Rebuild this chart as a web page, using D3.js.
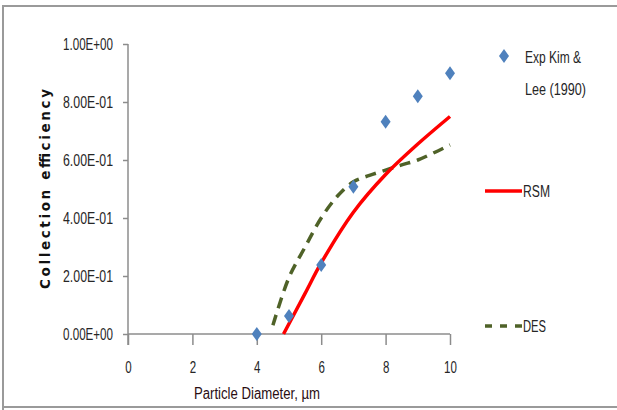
<!DOCTYPE html>
<html>
<head>
<meta charset="utf-8">
<script src="https://cdn.jsdelivr.net/npm/d3@7"></script>
<style>
  html, body { margin: 0; padding: 0; background: #fff; }
  svg { display: block; }
  .lbl { font-family: "Liberation Sans", Arial, sans-serif; }
</style>
</head>
<body>
<svg id="chart" width="617" height="410"></svg>
<script>
// ---- data ----
const expX = [4, 5, 6, 7, 8, 9, 10];
const expY = [0.0, 0.062, 0.238, 0.508, 0.732, 0.82, 0.899];

const rsmX = [4.83, 5.5, 6, 7, 8, 9, 10];
const rsmY = [0.0, 0.14, 0.245, 0.42, 0.55, 0.655, 0.75];

const desX = [4.5, 5, 5.5, 6, 6.5, 7, 7.5, 8, 8.5, 9, 9.5, 10];
const desY = [0.03, 0.195, 0.3, 0.4, 0.475, 0.525, 0.547, 0.565, 0.583, 0.6, 0.625, 0.652];

const xTicks = [0, 2, 4, 6, 8, 10];
const yTicks = [0, 0.2, 0.4, 0.6, 0.8, 1.0];
const yTickLabels = ["0.00E+00", "2.00E-01", "4.00E-01", "6.00E-01", "8.00E-01", "1.00E+00"];
const legendNames = ["Exp Kim &", "Lee (1990)", "RSM", "DES"];

// ---- drawing ----
const svg = d3.select("#chart");
const x = d3.scaleLinear().domain([0, 10]).range([128, 450]);
const y = d3.scaleLinear().domain([0, 1]).range([334, 44]);
const axisColor = "#8c8c8c";
const textColor = "#262626";

function condense(sel, f) {
  sel.each(function () {
    const len = this.getComputedTextLength();
    d3.select(this).attr("textLength", len * f).attr("lengthAdjust", "spacingAndGlyphs");
  });
}

// outer frame
svg.append("path")
  .attr("d", "M3,410 V6 H617")
  .attr("fill", "none").attr("stroke", "#9a9a9a").attr("stroke-width", 2);
svg.append("line")
  .attr("x1", 3).attr("x2", 617).attr("y1", 407).attr("y2", 407)
  .attr("stroke", "#9a9a9a").attr("stroke-width", 2);

// y axis
const yAxis = d3.axisLeft(y).tickValues(yTicks).tickSize(5)
  .tickFormat((d, i) => yTickLabels[i]);
const gy = svg.append("g").attr("transform", `translate(${x(0)},0)`).call(yAxis);
gy.select(".domain").attr("stroke", axisColor).attr("stroke-width", 1.5)
  .attr("d", `M0,${y(1)}V${y(0) + 11}`);
gy.selectAll(".tick line").attr("stroke", axisColor).attr("stroke-width", 1.5);
gy.selectAll(".tick text").attr("class", "lbl").attr("font-size", 16)
  .attr("fill", textColor).attr("x", -15)
  .attr("textLength", 50).attr("lengthAdjust", "spacingAndGlyphs");

// x axis
const xAxis = d3.axisBottom(x).tickValues(xTicks).tickSize(11).tickFormat(d3.format("d"));
const gx = svg.append("g").attr("transform", `translate(0,${y(0)})`).call(xAxis);
gx.select(".domain").attr("stroke", axisColor).attr("stroke-width", 1.5)
  .attr("d", `M${x(0)},0H${x(10)}`);
gx.selectAll(".tick line").attr("stroke", axisColor).attr("stroke-width", 1.5);
gx.selectAll(".tick text").attr("class", "lbl").attr("font-size", 16)
  .attr("fill", textColor).attr("y", 34).attr("dy", "0.32em").call(condense, 0.72);

// axis titles
svg.append("text").attr("class", "lbl")
  .attr("x", 257).attr("y", 393).attr("dy", "0.35em")
  .attr("text-anchor", "middle").attr("font-size", 16).attr("fill", "#2a0d12")
  .attr("textLength", 126).attr("lengthAdjust", "spacingAndGlyphs")
  .text("Particle Diameter, µm");

svg.append("text")
  .attr("transform", "translate(45,189) rotate(-90)")
  .attr("text-anchor", "middle").attr("dy", "0.35em")
  .attr("font-family", "DejaVu Sans, sans-serif").attr("font-weight", "bold")
  .attr("font-size", 13.5).attr("fill", "#111")
  .attr("textLength", 200).attr("lengthAdjust", "spacing")
  .text("Collection efficiency");

// lines
const line = d3.line().x(d => x(d[0])).y(d => y(d[1])).curve(d3.curveCatmullRom.alpha(0.5));

svg.append("path")
  .datum(desX.map((v, i) => [v, desY[i]]))
  .attr("d", line).attr("fill", "none")
  .attr("stroke", "#4f6228").attr("stroke-width", 3.5)
  .attr("stroke-dasharray", "11,7");

svg.append("path")
  .datum(rsmX.map((v, i) => [v, rsmY[i]]))
  .attr("d", line).attr("fill", "none")
  .attr("stroke", "#ff0000").attr("stroke-width", 3.5);

// diamonds
const diamond = "M0,-7 L5,0 L0,7 L-5,0 Z";
svg.append("g").selectAll("path")
  .data(expX.map((v, i) => [v, expY[i]]))
  .join("path")
  .attr("d", diamond)
  .attr("transform", d => `translate(${x(d[0])},${y(d[1])})`)
  .attr("fill", "#4f81bd");

// legend
const leg = svg.append("g");
const legendWidths = [56, 61, 27, 23];
leg.append("path").attr("d", diamond).attr("transform", "translate(504,56)").attr("fill", "#4f81bd");
leg.append("text").attr("x", 525).attr("y", 57).text(legendNames[0]).attr("textLength", legendWidths[0]);
leg.append("text").attr("x", 525).attr("y", 89).text(legendNames[1]).attr("textLength", legendWidths[1]);

leg.append("line").attr("x1", 485).attr("x2", 522).attr("y1", 191).attr("y2", 191)
  .attr("stroke", "#ff0000").attr("stroke-width", 3.5);
leg.append("text").attr("x", 523).attr("y", 191).text(legendNames[2]).attr("textLength", legendWidths[2]);

leg.append("line").attr("x1", 485).attr("x2", 522).attr("y1", 326).attr("y2", 326)
  .attr("stroke", "#4f6228").attr("stroke-width", 3.5).attr("stroke-dasharray", "7,8");
leg.append("text").attr("x", 523).attr("y", 326).text(legendNames[3]).attr("textLength", legendWidths[3]);

leg.selectAll("text").attr("class", "lbl").attr("dy", "0.35em")
  .attr("font-size", 16).attr("fill", textColor).attr("lengthAdjust", "spacingAndGlyphs");
</script>
</body>
</html>
